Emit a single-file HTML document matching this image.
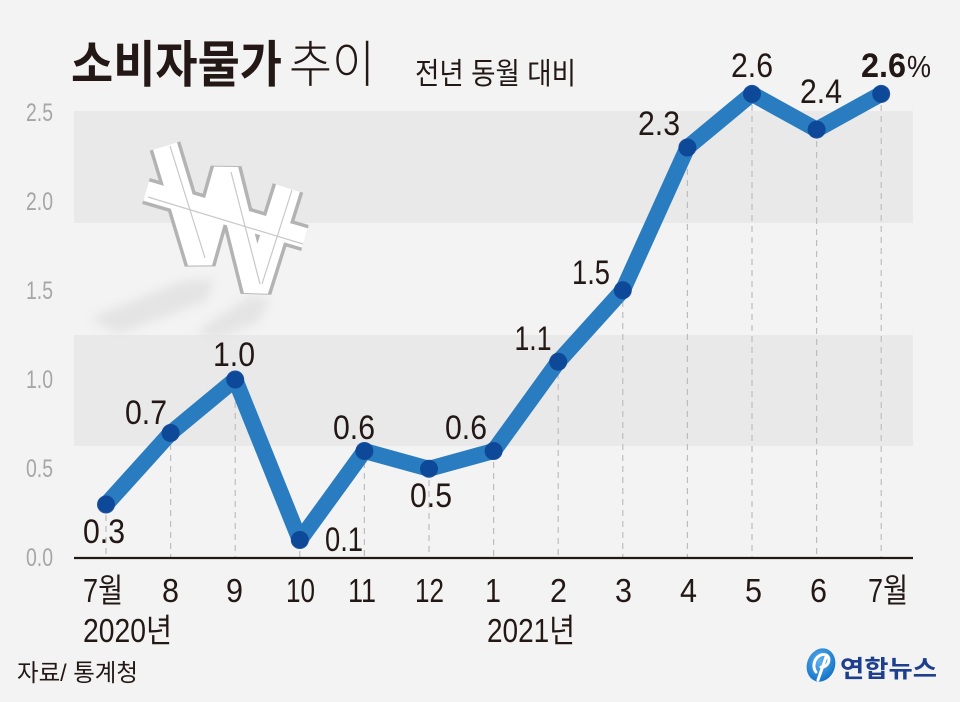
<!DOCTYPE html>
<html>
<head>
<meta charset="utf-8">
<style>
  html,body{margin:0;padding:0;background:#f3f3f3;}
  svg{display:block;}
</style>
</head>
<body>
<svg width="960" height="702" viewBox="0 0 960 702" xmlns="http://www.w3.org/2000/svg">
  <defs>
    <filter id="blur" x="-30%" y="-30%" width="160%" height="160%">
      <feGaussianBlur stdDeviation="5"/>
    </filter>
    <radialGradient id="lg" cx="40%" cy="40%" r="70%">
      <stop offset="0" stop-color="#5fb0ee"/>
      <stop offset="1" stop-color="#0a6cc4"/>
    </radialGradient>
  </defs>
  <rect x="0" y="0" width="960" height="702" fill="#f3f3f3"/>

  <!-- bands -->
  <rect x="74" y="111" width="839" height="112" fill="#e9e9e9"/>
  <rect x="74" y="335" width="839" height="111" fill="#e9e9e9"/>

  <!-- title -->
  <text x="71" y="82" font-family="'Liberation Sans','Noto Sans CJK KR',sans-serif" font-size="50" font-weight="bold" fill="#231815" textLength="211" lengthAdjust="spacingAndGlyphs">소비자물가</text>
  <text x="289" y="82" font-family="'Liberation Sans','Noto Sans CJK KR',sans-serif" font-size="50" font-weight="300" fill="#231815" textLength="86" lengthAdjust="spacingAndGlyphs">추이</text>
  <text x="415" y="84" font-family="'Liberation Sans','Noto Sans CJK KR',sans-serif" font-size="30" fill="#231815" textLength="161" lengthAdjust="spacingAndGlyphs">전년 동월 대비</text>

  <!-- y ticks -->
  <g font-family="'Liberation Sans',sans-serif" font-size="25" fill="#a6a6a6" text-anchor="end">
    <text x="53" y="121" textLength="27" lengthAdjust="spacingAndGlyphs">2.5</text>
    <text x="53" y="210" textLength="27" lengthAdjust="spacingAndGlyphs">2.0</text>
    <text x="53" y="299" textLength="27" lengthAdjust="spacingAndGlyphs">1.5</text>
    <text x="53" y="388" textLength="27" lengthAdjust="spacingAndGlyphs">1.0</text>
    <text x="53" y="477" textLength="27" lengthAdjust="spacingAndGlyphs">0.5</text>
    <text x="53" y="566" textLength="27" lengthAdjust="spacingAndGlyphs">0.0</text>
  </g>

  <!-- won symbol -->
  <g>
    <path d="M90,318 L182,281 L214,279 L206,301 L118,334 Z" fill="#e4e4e4" filter="url(#blur)"/>
    <path d="M196,332 L250,296 L270,299 L258,322 L214,340 Z" fill="#e4e4e4" filter="url(#blur)"/>
    <g fill="none" stroke-linejoin="bevel" stroke-linecap="butt">
      <polyline points="165,146 200,262 226,170 256,290 288,188" stroke="#b3b3b3" stroke-width="32"/>
      <line x1="146" y1="191" x2="305" y2="238" stroke="#b3b3b3" stroke-width="27"/>
      <polyline points="165,146 200,262 226,170 256,290 288,188" stroke="#ffffff" stroke-width="25"/>
      <line x1="146" y1="191" x2="305" y2="238" stroke="#ffffff" stroke-width="20"/>
      <g stroke="#c8c8c8" stroke-width="1.2">
        <line x1="170" y1="146" x2="205" y2="258"/>
        <line x1="231" y1="172" x2="260" y2="284"/>
        <line x1="148" y1="197" x2="303" y2="244"/>
        <line x1="292" y1="190" x2="262" y2="284"/>
      </g>
    </g>
  </g>

  <!-- dashed guides -->
  <g stroke="#bdbdbd" stroke-width="1.2" stroke-dasharray="6 5">
    <line x1="106" y1="504" x2="106" y2="557"/>
    <line x1="170.6" y1="433" x2="170.6" y2="557"/>
    <line x1="235.2" y1="380" x2="235.2" y2="557"/>
    <line x1="299.8" y1="540" x2="299.8" y2="557"/>
    <line x1="364.4" y1="451" x2="364.4" y2="557"/>
    <line x1="429" y1="469" x2="429" y2="557"/>
    <line x1="493.6" y1="451" x2="493.6" y2="557"/>
    <line x1="558.2" y1="362" x2="558.2" y2="557"/>
    <line x1="622.8" y1="290" x2="622.8" y2="557"/>
    <line x1="687.4" y1="147" x2="687.4" y2="557"/>
    <line x1="752" y1="94" x2="752" y2="557"/>
    <line x1="816.6" y1="130" x2="816.6" y2="557"/>
    <line x1="881.2" y1="94" x2="881.2" y2="557"/>
  </g>

  <!-- axis -->
  <line x1="74" y1="558" x2="913" y2="558" stroke="#231815" stroke-width="2.2"/>

  <!-- series -->
  <polyline fill="none" stroke="#2a7cc0" stroke-width="16" stroke-linejoin="round" stroke-linecap="round"
    points="106,504.5 170.6,433 235.2,379.5 299.8,540 364.4,451 429,468.8 493.6,451 558.2,361.7 622.8,290.3 687.4,147.5 752,93.9 816.6,129.6 881.2,93.9"/>
  <g fill="#0a4295" fill-opacity="0.9">
    <circle cx="106" cy="504.5" r="9"/>
    <circle cx="170.6" cy="433" r="9"/>
    <circle cx="235.2" cy="379.5" r="9"/>
    <circle cx="299.8" cy="540" r="9"/>
    <circle cx="364.4" cy="451" r="9"/>
    <circle cx="429" cy="468.8" r="9"/>
    <circle cx="493.6" cy="451" r="9"/>
    <circle cx="558.2" cy="361.7" r="9"/>
    <circle cx="622.8" cy="290.3" r="9"/>
    <circle cx="687.4" cy="147.5" r="9"/>
    <circle cx="752" cy="93.9" r="9"/>
    <circle cx="816.6" cy="129.6" r="9"/>
    <circle cx="881.2" cy="93.9" r="9"/>
  </g>

  <!-- data labels -->
  <g font-family="'Liberation Sans',sans-serif" font-size="34" fill="#231815" text-anchor="middle">
    <text x="104" y="543" textLength="42" lengthAdjust="spacingAndGlyphs">0.3</text>
    <text x="146" y="424" textLength="42" lengthAdjust="spacingAndGlyphs">0.7</text>
    <text x="234" y="366" textLength="42" lengthAdjust="spacingAndGlyphs">1.0</text>
    <text x="344" y="551" textLength="38" lengthAdjust="spacingAndGlyphs">0.1</text>
    <text x="354" y="439" textLength="42" lengthAdjust="spacingAndGlyphs">0.6</text>
    <text x="431" y="507" textLength="42" lengthAdjust="spacingAndGlyphs">0.5</text>
    <text x="466" y="439" textLength="42" lengthAdjust="spacingAndGlyphs">0.6</text>
    <text x="533" y="350" textLength="37" lengthAdjust="spacingAndGlyphs">1.1</text>
    <text x="591" y="284" textLength="38" lengthAdjust="spacingAndGlyphs">1.5</text>
    <text x="659" y="135" textLength="42" lengthAdjust="spacingAndGlyphs">2.3</text>
    <text x="752" y="77" textLength="42" lengthAdjust="spacingAndGlyphs">2.6</text>
    <text x="821" y="103" textLength="42" lengthAdjust="spacingAndGlyphs">2.4</text>
  </g>
  <text x="861" y="77" font-family="'Liberation Sans',sans-serif" font-size="34" font-weight="bold" fill="#231815" textLength="45" lengthAdjust="spacingAndGlyphs">2.6</text>
  <text x="907" y="77" font-family="'Liberation Sans',sans-serif" font-size="31" fill="#231815" textLength="24" lengthAdjust="spacingAndGlyphs">%</text>

  <!-- x tick labels -->
  <g font-family="'Liberation Sans','Noto Sans CJK KR',sans-serif" font-size="33" fill="#231815">
    <text x="83" y="602" textLength="40" lengthAdjust="spacingAndGlyphs">7월</text>
    <text x="162" y="602" textLength="17" lengthAdjust="spacingAndGlyphs">8</text>
    <text x="226" y="602" textLength="17" lengthAdjust="spacingAndGlyphs">9</text>
    <text x="286" y="602" textLength="29" lengthAdjust="spacingAndGlyphs">10</text>
    <text x="348" y="602" textLength="28" lengthAdjust="spacingAndGlyphs">11</text>
    <text x="415" y="602" textLength="29" lengthAdjust="spacingAndGlyphs">12</text>
    <text x="485" y="602" textLength="16" lengthAdjust="spacingAndGlyphs">1</text>
    <text x="550" y="602" textLength="17" lengthAdjust="spacingAndGlyphs">2</text>
    <text x="615" y="602" textLength="17" lengthAdjust="spacingAndGlyphs">3</text>
    <text x="680" y="602" textLength="17" lengthAdjust="spacingAndGlyphs">4</text>
    <text x="745" y="602" textLength="17" lengthAdjust="spacingAndGlyphs">5</text>
    <text x="810" y="602" textLength="17" lengthAdjust="spacingAndGlyphs">6</text>
    <text x="868" y="602" textLength="40" lengthAdjust="spacingAndGlyphs">7월</text>
    <text x="83" y="642" textLength="89" lengthAdjust="spacingAndGlyphs">2020년</text>
    <text x="487" y="642" textLength="88" lengthAdjust="spacingAndGlyphs">2021년</text>
  </g>

  <!-- source -->
  <text x="17" y="681" font-family="'Liberation Sans','Noto Sans CJK KR',sans-serif" font-size="24" fill="#231815" textLength="121" lengthAdjust="spacingAndGlyphs">자료/ 통계청</text>

  <!-- logo -->
  <g>
    <ellipse cx="821" cy="665" rx="14" ry="17" transform="rotate(20 821 665)" fill="url(#lg)"/>
    <path d="M816,672 C810,664 818,652 826,655 C832,658 828,668 821,667 M826,657 L818,680" fill="none" stroke="#ffffff" stroke-width="3" stroke-linecap="round"/>
    <text x="840" y="677" font-family="'Liberation Sans','Noto Sans CJK KR',sans-serif" font-size="24" font-weight="bold" fill="#1d3f8e" textLength="97" lengthAdjust="spacingAndGlyphs">연합뉴스</text>
  </g>
</svg>
</body>
</html>
